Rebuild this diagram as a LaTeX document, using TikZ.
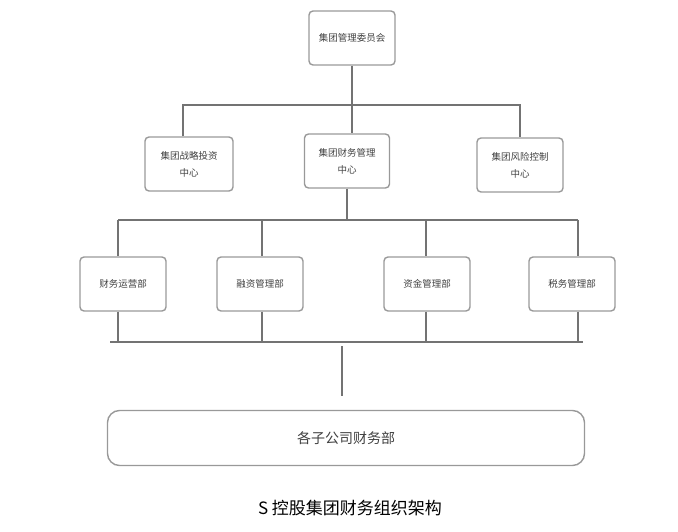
\documentclass[tikz,border=0pt]{standalone}
\usepackage{fontspec}
\setmainfont{Noto Sans CJK SC}
\usetikzlibrary{positioning}
\tikzset{box/.style={draw=gray!80,line width=1.4pt,rounded corners=4pt,
                     align=center,font=\fontsize{9.5}{17}\selectfont,text=black!75,
                     minimum width=86pt,minimum height=54pt,inner sep=2pt}}
\tikzset{link/.style={draw=gray!90!black,line width=2pt}}
\begin{document}
\begin{tikzpicture}[x=1pt,y=-1pt]
      \useasboundingbox (0,0) rectangle (678,532);

      % boxes
      \node [box] (top) at (352,38) {集团管理委员会};
      \node [box,minimum width=88pt] (inv) at (189,164) {集团战略投资\\中心};
      \node [box,minimum width=85pt] (fin) at (347,161) {集团财务管理\\中心};
      \node [box,minimum width=86pt] (risk) at (520,165) {集团风险控制\\中心};
      \foreach \n/\x/\t in {d1/123/财务运营部, d2/260/融资管理部,
                           d3/427/资金管理部, d4/572/税务管理部}
      {
      \node [box] (\n) at (\x,284) {\t};
      }
      \node [box,minimum width=477pt,minimum height=55pt,rounded corners=12pt,
             font=\fontsize{14}{16}\selectfont] (sub) at (346,438) {各子公司财务部};

      % connectors
      \coordinate (b1) at (352,105);
      \coordinate (b2) at (347,220);
      \coordinate (b3) at (342,342);
      \draw [link] (top) -- (b1);
      \draw [link] (inv.north -| 183,0) |- (b1) -| (risk.north);
      \draw [link] (b1) -- (fin.north -| b1);
      \draw [link] (fin) -- (b2);
      \draw [link] (118,220) -- (578,220);
      \draw [link] (110,342) -- (583,342);
      \foreach \n/\x in {d1/118, d2/262, d3/426, d4/578}
      {
      \draw [link] (\x,220) -- (\n.north -| \x,0);
      \draw [link] (\n.south -| \x,0) -- (\x,342);
      }
      \draw [link] (342,346) -- (342,396);

      \node [font=\fontsize{17}{19}\selectfont] (cap) at (350,508) {S 控股集团财务组织架构};
\end{tikzpicture}
\end{document}
